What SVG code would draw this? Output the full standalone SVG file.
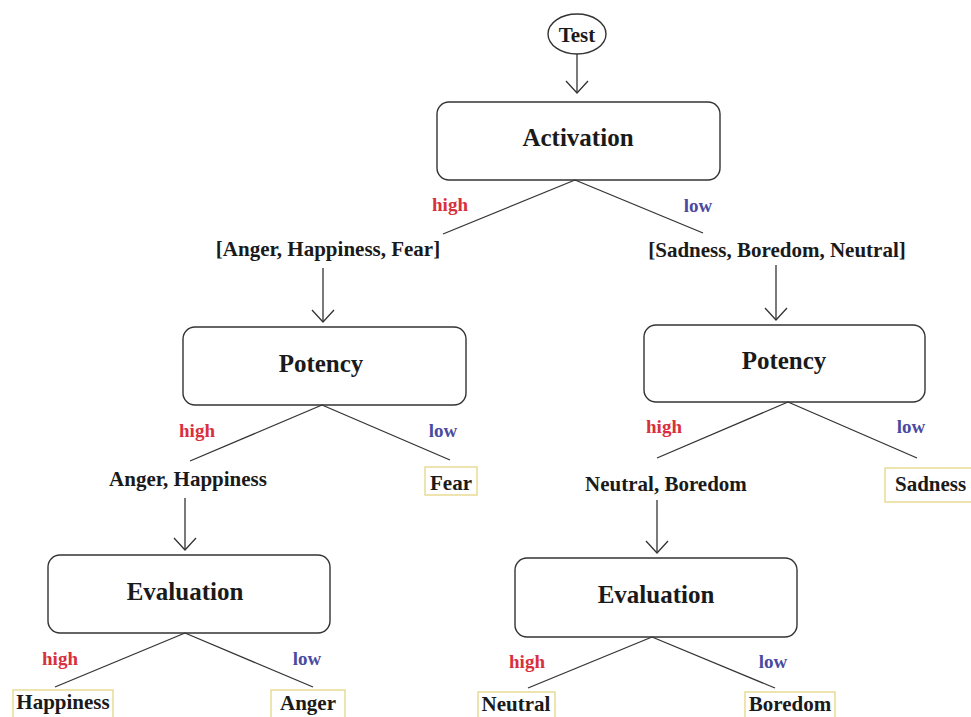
<svg xmlns="http://www.w3.org/2000/svg" width="971" height="717" viewBox="0 0 971 717" font-family="'Liberation Serif', 'Times New Roman', 'DejaVu Serif', serif">
<style>
text{font-family:'Liberation Serif','Times New Roman','DejaVu Serif',serif;font-weight:bold;fill:#1a1a1a}
.box{fill:#fff;stroke:#333;stroke-width:1.4}
.leaf{fill:#fff;stroke:#e6d98f;stroke-width:1.4}
.t{font-size:25px;text-anchor:middle}
.l{font-size:21px;text-anchor:middle}
.hi{font-size:19px;text-anchor:middle;fill:#d8303c}
.lo{font-size:19px;text-anchor:middle;fill:#4a4aa0}
.c line{stroke:#333;stroke-width:1.3}
.a{marker-end:url(#ah)}
</style>
<defs>
<marker id="ah" markerUnits="userSpaceOnUse" markerWidth="26" markerHeight="26" refX="13" refY="13" orient="auto">
<path d="M1,2 L13,13 L1,24" fill="none" stroke="#333" stroke-width="1.3"/>
</marker>
</defs>
<g id="test"><ellipse cx="577" cy="34" rx="29" ry="20" class="box"/><text x="577" y="42" class="l">Test</text></g>
<g id="activation"><rect x="437" y="102" width="283" height="78" rx="12" class="box"/><text x="578" y="146" class="t">Activation</text></g>
<g id="list-high"><text x="328" y="256" class="l">[Anger, Happiness, Fear]</text></g>
<g id="list-low"><text x="777" y="257" class="l">[Sadness, Boredom, Neutral]</text></g>
<g id="potency-left"><rect x="183" y="327" width="283" height="78" rx="12" class="box"/><text x="321" y="372" class="t">Potency</text></g>
<g id="potency-right"><rect x="644" y="325" width="281" height="77" rx="12" class="box"/><text x="784" y="369" class="t">Potency</text></g>
<g id="anger-happiness"><text x="188" y="486" class="l">Anger, Happiness</text></g>
<g id="fear"><rect x="425" y="467" width="52" height="28" class="leaf"/><text x="451" y="490" class="l">Fear</text></g>
<g id="neutral-boredom"><text x="666" y="491" class="l">Neutral, Boredom</text></g>
<g id="sadness"><rect x="885" y="468" width="90" height="34" class="leaf"/><text x="895" y="491" class="l" style="text-anchor:start">Sadness</text></g>
<g id="evaluation-left"><rect x="48" y="555" width="282" height="78" rx="12" class="box"/><text x="185" y="600" class="t">Evaluation</text></g>
<g id="evaluation-right"><rect x="515" y="558" width="282" height="79" rx="12" class="box"/><text x="656" y="603" class="t">Evaluation</text></g>
<g id="happiness"><rect x="13" y="690" width="100" height="30" class="leaf"/><text x="63" y="709" class="l">Happiness</text></g>
<g id="anger"><rect x="271" y="690" width="74" height="30" class="leaf"/><text x="308" y="710" class="l">Anger</text></g>
<g id="neutral"><rect x="478" y="692" width="77" height="30" class="leaf"/><text x="516" y="711" class="l">Neutral</text></g>
<g id="boredom"><rect x="745" y="692" width="90" height="30" class="leaf"/><text x="790" y="711" class="l">Boredom</text></g>
<g id="connectors" class="c">
<line class="a" x1="577" y1="54" x2="577" y2="93"/>
<line x1="575" y1="180" x2="443" y2="234"/>
<line x1="575" y1="180" x2="703" y2="233"/>
<line class="a" x1="323" y1="268" x2="323" y2="322"/>
<line class="a" x1="776" y1="265" x2="776" y2="320"/>
<line x1="322" y1="405" x2="190" y2="461"/>
<line x1="322" y1="405" x2="450" y2="460"/>
<line x1="788" y1="402" x2="657" y2="458"/>
<line x1="788" y1="402" x2="917" y2="458"/>
<line class="a" x1="185" y1="498" x2="185" y2="550"/>
<line class="a" x1="657" y1="500" x2="657" y2="553"/>
<line x1="185" y1="633" x2="55" y2="687"/>
<line x1="185" y1="633" x2="313" y2="687"/>
<line x1="652" y1="637" x2="528" y2="688"/>
<line x1="652" y1="637" x2="775" y2="688"/>
</g>
<g id="labels">
<text x="450" y="211" class="hi">high</text>
<text x="698" y="212" class="lo">low</text>
<text x="197" y="437" class="hi">high</text>
<text x="443" y="437" class="lo">low</text>
<text x="664" y="433" class="hi">high</text>
<text x="911" y="433" class="lo">low</text>
<text x="60" y="665" class="hi">high</text>
<text x="307" y="665" class="lo">low</text>
<text x="527" y="668" class="hi">high</text>
<text x="773" y="668" class="lo">low</text>
</g>
</svg>
